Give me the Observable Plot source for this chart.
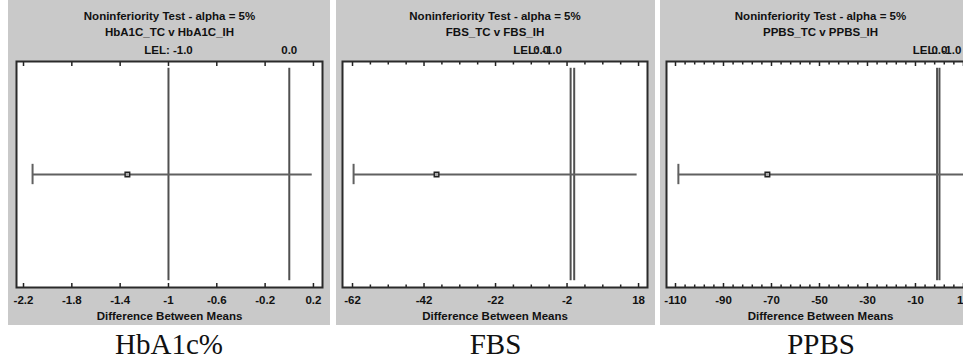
<!DOCTYPE html>
<html>
<head>
<meta charset="utf-8">
<script src="https://cdn.jsdelivr.net/npm/d3@7"></script>
<script src="https://cdn.jsdelivr.net/npm/@observablehq/plot@0.6"></script>
<style>
  html, body { margin: 0; padding: 0; background: #fff; overflow: hidden; }
  #root { position: relative; width: 963px; height: 360px; overflow: hidden; }
  .panel { position: absolute; top: 0; height: 325px; background: #c9c9c9; }
  .caption { position: absolute; top: 328px; text-align: center; font-family: "Liberation Serif", "Times New Roman", serif; font-size: 29px; color: #111; }
</style>
</head>
<body>
<div id="root"></div>
<script>
// ---- data ----
const panelNames = ["HbA1c%", "FBS", "PPBS"];
const chartTitle = "Noninferiority Test - alpha = 5%";
const subtitles = ["HbA1C_TC v HbA1C_IH", "FBS_TC v FBS_IH", "PPBS_TC v PPBS_IH"];
const axisTitle = "Difference Between Means";
const lowerLimits = [-2.125, -61.7, -108.8];
const estimates = [-1.34, -38.5, -71.7];
const upperLimits = [0.19, 17.6, 11];
const lelValues = [-1.0, -1.0, -1.0];
const zeroValues = [0.0, 0.0, 0.0];
const lelLabels = ["LEL: -1.0", "LEL: -1.0", "LEL: -1.0"];
const zeroLabels = ["0.0", "0.0", "0.0"];
const majorTicks = [
  [-2.2, -1.8, -1.4, -1, -0.6, -0.2, 0.2],
  [-62, -42, -22, -2, 18],
  [-110, -90, -70, -50, -30, -10, 10]
];
const majorTickLabels = [
  ["-2.2", "-1.8", "-1.4", "-1", "-0.6", "-0.2", "0.2"],
  ["-62", "-42", "-22", "-2", "18"],
  ["-110", "-90", "-70", "-50", "-30", "-10", "10"]
];
const minorSteps = [null, 5, 4];

// ---- layout / styling ----
const layout = [
  {left: 8, width: 322, mL: 8, mR: 8, domain: [-2.258, 0.275], labelDx: 0},
  {left: 336, width: 319, mL: 6, mR: 8, domain: [-64.8, 20.5], labelDx: -33},
  {left: 660, width: 322, mL: 6, mR: 8, domain: [-113.75, 14.6], labelDx: 0}
];
const FONT = "Arial, 'Liberation Sans', sans-serif";
const FS = 11.5;
const root = document.getElementById("root");

panelNames.forEach((name, i) => {
  const L = layout[i];
  const row = {lo: lowerLimits[i], est: estimates[i], hi: upperLimits[i]};
  const majors = majorTicks[i];
  const labelMap = new Map(majors.map((v, k) => [v, majorTickLabels[i][k]]));
  const minors = minorSteps[i] ? d3.range(majors[0], majors[majors.length - 1] + 1e-9, minorSteps[i]).filter(v => !majors.includes(v)) : [];
  const refLines = [lelValues[i], zeroValues[i]];
  const marks = [
    Plot.frame({fill: "white"}),
    Plot.ruleX(refLines, {x: d => d, y1: 0.03, y2: 0.97, stroke: "#505050", strokeWidth: 2}),
    Plot.ruleY([row], {x1: "lo", x2: "hi", y: 0.5, stroke: "#606060", strokeWidth: 2}),
    Plot.ruleX([row], {x: "lo", y1: 0.455, y2: 0.545, stroke: "#606060", strokeWidth: 2}),
    Plot.dot([row], {x: "est", y: 0.5, symbol: "square", r: 2.6, stroke: "#222", strokeWidth: 1.4, fill: "#aaa"}),
    // inward ticks, top and bottom
    Plot.axisX(majors, {anchor: "bottom", tickSize: -4, tickFormat: () => "", label: null, stroke: "#222", strokeWidth: 1.5}),
    Plot.axisX(majors, {anchor: "top", tickSize: -4, tickFormat: () => "", label: null, stroke: "#222", strokeWidth: 1.5}),
    Plot.axisX(minors, {anchor: "bottom", tickSize: -2.5, tickFormat: () => "", label: null, stroke: "#222", strokeWidth: 1.5}),
    Plot.axisX(minors, {anchor: "top", tickSize: -2.5, tickFormat: () => "", label: null, stroke: "#222", strokeWidth: 1.5}),
    // tick labels
    Plot.axisX(majors, {anchor: "bottom", tickSize: 0, tickPadding: 8, tickFormat: d => labelMap.get(d), label: null, fontWeight: "bold", fontSize: FS, fill: "#111"}),
    Plot.text([axisTitle], {frameAnchor: "bottom", dy: 29, lineAnchor: "middle", fontWeight: "bold", fontSize: FS, fill: "#111"}),
    Plot.text([chartTitle], {frameAnchor: "top", dy: -45, lineAnchor: "middle", fontWeight: "bold", fontSize: FS, fill: "#111"}),
    Plot.text([subtitles[i]], {frameAnchor: "top", dy: -29, lineAnchor: "middle", fontWeight: "bold", fontSize: FS, fill: "#111"}),
    Plot.text([lelValues[i]], {x: d => d, frameAnchor: "top", dy: -11, dx: L.labelDx, text: () => lelLabels[i], lineAnchor: "middle", fontWeight: "bold", fontSize: FS, fill: "#111"}),
    Plot.text([zeroValues[i]], {x: d => d, frameAnchor: "top", dy: -11, dx: L.labelDx, text: () => zeroLabels[i], lineAnchor: "middle", fontWeight: "bold", fontSize: FS, fill: "#111"}),
    Plot.frame({stroke: "#2a2a2a", strokeWidth: 2})
  ];
  const svg = Plot.plot({
    width: L.width, height: 325,
    marginLeft: L.mL, marginRight: L.mR, marginTop: 61, marginBottom: 38,
    x: {domain: L.domain, axis: null},
    y: {domain: [0, 1], axis: null},
    style: {background: "transparent", fontFamily: FONT, overflow: "visible"},
    marks
  });
  const div = document.createElement("div");
  div.className = "panel";
  div.style.left = L.left + "px";
  div.style.width = L.width + "px";
  div.appendChild(svg);
  root.appendChild(div);
  const cap = document.createElement("div");
  cap.className = "caption";
  cap.style.left = L.left + "px";
  cap.style.width = L.width + "px";
  cap.textContent = name;
  root.appendChild(cap);
});
</script>
</body>
</html>
